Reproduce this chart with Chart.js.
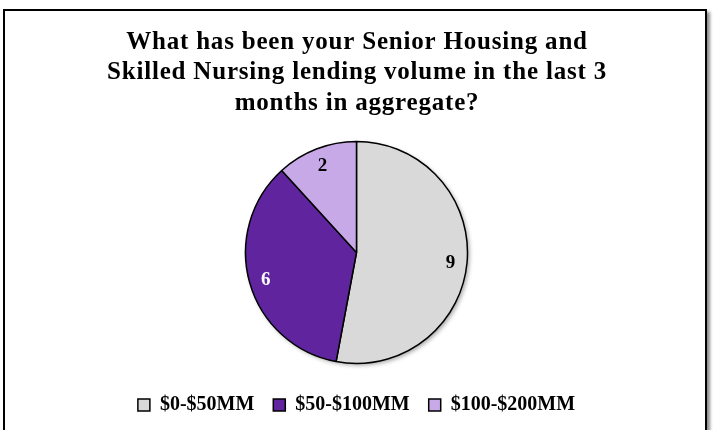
<!DOCTYPE html>
<html>
<head>
<meta charset="utf-8">
<script src="https://cdn.jsdelivr.net/npm/chart.js@4/dist/chart.umd.min.js"></script>
<style>
  html, body { margin: 0; padding: 0; background: #fff; }
  body { width: 713px; height: 430px; position: relative; overflow: hidden; }
  #frame {
    position: absolute; left: 3px; top: 9px; width: 700px; height: 440px;
    border: 2px solid #000; box-shadow: 3px 3px 3px rgba(0,0,0,.45);
  }
  #wrap { position: absolute; left: 0; top: 0; width: 713px; height: 430px; }
</style>
</head>
<body>
<div id="frame"></div>
<div id="wrap"><canvas id="c"></canvas></div>
<script>
const TITLE = [
  'What has been your Senior Housing and',
  'Skilled Nursing lending volume in the last 3',
  'months in aggregate?',
];
const categories = ['$0-$50MM', '$50-$100MM', '$100-$200MM'];
const counts = [9, 6, 2];
const colors = ['#d9d9d9', '#60259e', '#c8a9e8'];
const labelColors = ['#000', '#fff', '#000'];

const SERIF = "'Liberation Serif', 'DejaVu Serif', serif";

// title drawn by hand so it can get a little letter spacing (Garamond look)
const titleLines = {
  id: 'titleLines',
  afterDraw(chart) {
    const { ctx, width } = chart;
    ctx.save();
    ctx.font = `bold 25px ${SERIF}`;
    ctx.letterSpacing = '0.8px';
    ctx.fillStyle = '#000';
    ctx.textAlign = 'center';
    ctx.textBaseline = 'alphabetic';
    TITLE.forEach((line, i) => ctx.fillText(line, width / 2 + 0.5, 48.5 + i * 30.5));
    ctx.restore();
  },
};

// soft shadow behind the pie, then the counts inside each slice
const sliceLabels = {
  id: 'sliceLabels',
  beforeDatasetsDraw(chart) {
    const { ctx } = chart;
    const arc = chart.getDatasetMeta(0).data[0];
    if (!arc) return;
    ctx.save();
    ctx.shadowColor = 'rgba(0,0,0,.35)';
    ctx.shadowBlur = 4;
    ctx.shadowOffsetX = 2;
    ctx.shadowOffsetY = 2;
    ctx.fillStyle = '#fff';
    ctx.beginPath();
    ctx.arc(arc.x, arc.y, arc.outerRadius, 0, Math.PI * 2);
    ctx.fill();
    ctx.restore();
  },
  afterDatasetsDraw(chart) {
    const { ctx } = chart;
    const meta = chart.getDatasetMeta(0);
    ctx.save();
    ctx.font = `bold 19px ${SERIF}`;
    ctx.textAlign = 'center';
    ctx.textBaseline = 'middle';
    meta.data.forEach((arc, i) => {
      const mid = (arc.startAngle + arc.endAngle) / 2;
      const r = arc.outerRadius * 0.85;
      ctx.fillStyle = labelColors[i];
      ctx.fillText(String(counts[i]), arc.x + Math.cos(mid) * r, arc.y + Math.sin(mid) * r + 2);
    });
    ctx.restore();
  },
};

new Chart(document.getElementById('c'), {
  type: 'pie',
  data: {
    labels: categories,
    datasets: [{
      data: counts,
      backgroundColor: colors,
      borderColor: '#000',
      borderWidth: 1.5,
      radius: 111,
      hoverOffset: 0,
    }],
  },
  options: {
    responsive: true,
    maintainAspectRatio: false,
    animation: false,
    layout: { padding: { top: 129, bottom: 5, left: 0, right: 0 } },
    plugins: {
      title: { display: false },
      legend: {
        position: 'bottom',
        maxHeight: 50,
        labels: {
          color: '#000',
          boxWidth: 12,
          boxHeight: 12,
          padding: 19,
          font: { family: SERIF, size: 20, weight: 'bold' },
        },
      },
      tooltip: { enabled: false },
    },
  },
  plugins: [titleLines, sliceLabels],
});
</script>
</body>
</html>
